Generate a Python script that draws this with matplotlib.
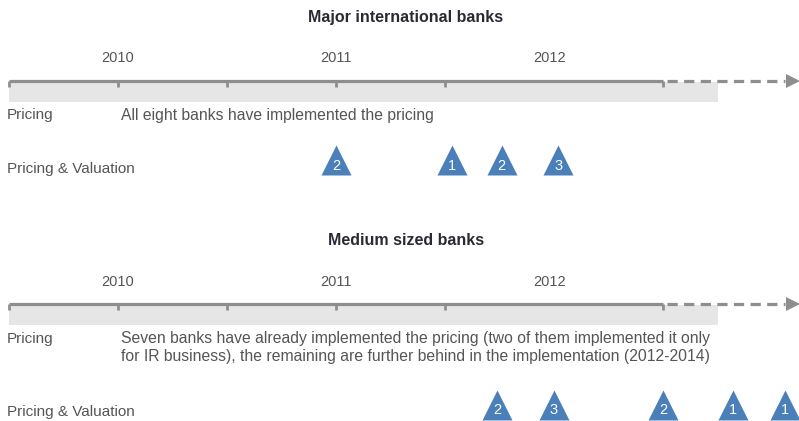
# -*- coding: utf-8 -*-
# Frise chronologique : mise en place pricing / valuation (grandes banques, banques moyennes)

import matplotlib
matplotlib.use("Agg")
import matplotlib.pyplot as plt

plt.rcParams["font.family"] = ["Liberation Sans", "DejaVu Sans"]

# ---- donnees ----
year_labels = [2010, 2011, 2012]
year_label_pos = [2010.0, 2011.0, 2011.98]
tick_pos = [2009.5, 2010.0, 2010.5, 2011.0, 2011.5, 2012.5]

section_titles = ["Major international banks", "Medium sized banks"]
pricing_texts = [
    "All eight banks have implemented the pricing",
    "Seven banks have already implemented the pricing (two of them implemented it only\n"
    "for IR business), the remaining are further behind in the implementation (2012-2014)",
]
major_pos = [2011.0, 2011.53, 2011.76, 2012.02]
major_count = [2, 1, 2, 3]
medium_pos = [2011.74, 2012.0, 2012.5, 2012.82, 2013.06]
medium_count = [2, 3, 2, 1, 1]

# ---- mise en page (y en pixels depuis le haut) ----
PX_PER_YEAR = 218.0
X0_PX, X0_YEAR = 118.0, 2010.0
start, solid_end, band_end, arrow_tip = 2009.5, 2012.5, 2012.75, 2013.12
text_left = 2009.49

GREY = "#8e8e8e"
BAND = "#e6e6e6"
BLUE = "#4a7fba"
TXT = "#555555"

fig = plt.figure(figsize=(7.99, 4.21), dpi=100)
ax = fig.add_axes([0, 0, 1, 1])
ax.set_xlim(X0_YEAR - X0_PX / PX_PER_YEAR, X0_YEAR + (799 - X0_PX) / PX_PER_YEAR)
ax.set_ylim(421, 0)
ax.axis("off")


def section(y0, title, text):
    # y0 = position de l'axe du temps
    ax.text(2011.32, y0 - 63, title, ha="center", va="center",
            fontsize=11.5, fontweight="bold", color="#2a2a36")
    for lab, xp in zip(year_labels, year_label_pos):
        ax.text(xp, y0 - 22, str(lab), ha="center", va="center",
                fontsize=10.5, color=TXT)
    ax.fill_between([start, band_end], y0 + 1.5, y0 + 21, color=BAND, lw=0, zorder=1)
    ax.plot([start, solid_end], [y0, y0], color=GREY, lw=2.3,
            solid_capstyle="butt", zorder=3)
    ax.plot([solid_end + 0.02, arrow_tip - 0.06], [y0, y0], color=GREY, lw=2.3,
            dashes=(3.2, 2.0), zorder=3)
    ax.plot([arrow_tip - 0.025], [y0], marker=">", markersize=10, color=GREY,
            markeredgewidth=0, zorder=3)
    ax.vlines(tick_pos, y0, y0 + 6, color=GREY, lw=2.0, zorder=3)
    ax.text(text_left, y0 + 35, "Pricing", ha="left", va="center",
            fontsize=11, color=TXT)
    for k, ln in enumerate(text.split("\n")):
        ax.text(2010.015, y0 + 35 + 18 * k, ln, ha="left", va="center",
                fontsize=11.3, color=TXT)


def triangles(yc, pos, count, ylab):
    ax.text(text_left, ylab, "Pricing & Valuation", ha="left", va="center",
            fontsize=11, color=TXT)
    ax.scatter(pos, [yc] * len(pos), marker="^", s=21.6 ** 2, color=BLUE,
               linewidths=0, zorder=4)
    for xp, n in zip(pos, count):
        ax.text(xp, yc + 5.5, str(n), ha="center", va="center",
                fontsize=10.5, color="white", zorder=5)


section(80.5, section_titles[0], pricing_texts[0])
triangles(160, major_pos, major_count, 169)
section(303.5, section_titles[1], pricing_texts[1])
triangles(405, medium_pos, medium_count, 412)

fig.savefig("out.png", dpi=100)
